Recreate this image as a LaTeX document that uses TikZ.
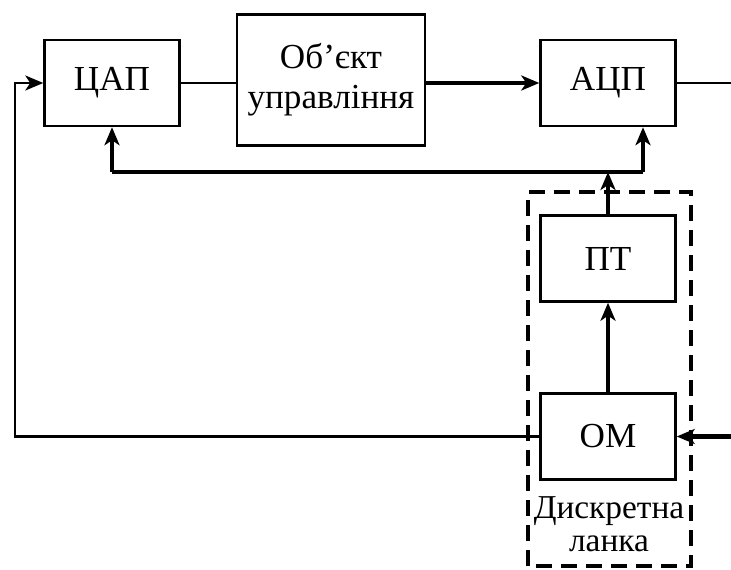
\documentclass[tikz,border=0pt]{standalone}
\usepackage{fontspec}
\setmainfont{Liberation Serif}
\usetikzlibrary{arrows.meta}

\tikzset{
    blok/.style={draw, line width=1.4pt, minimum width=2.7cm, minimum height=1.72cm, inner sep=0pt, font=\fontsize{20}{23}\selectfont},
    tonka/.style={line width=1.4pt},
    tovsta/.style={line width=2.7pt},
    strilka/.style={-{Stealth[length=0.36cm, width=0.3cm, inset=0.1cm]}}
}

\begin{document}
\begin{tikzpicture}

    \useasboundingbox (0, 0) rectangle (14.62, 11.38);

    \draw[line width=1.8pt, dash pattern=on 0.32cm off 0.18cm] (10.56, 0.06) rectangle (13.82, 7.54);

    \node[blok] (cap) at (2.24, 9.72) {ЦАП};
    \node[blok, minimum width=3.76cm, minimum height=2.62cm, align=center] (obj) at (6.62, 9.78) {Об’єкт\\управління};
    \node[blok] (acp) at (12.16, 9.72) {АЦП};
    \node[blok] (pt) at (12.16, 6.21) {ПТ};
    \node[blok] (om) at (12.16, 2.65) {ОМ};
    \node[align=center, font=\fontsize{19}{19}\selectfont] (lanka) at (12.18, 0.9) {Дискретна\\ланка};

    \coordinate (vyhid) at (14.62, 9.72);
    \coordinate (vhid) at (14.62, 2.65);
    \coordinate (zliva) at (0.3, 2.65);
    \coordinate (shyna) at (12.16, 7.94);

    \draw[tonka] (cap.east) -- (cap.east -| obj.west);
    \draw[tovsta, strilka] (acp.west -| obj.east) -- (acp.west);
    \draw[tonka] (acp.east) -- (vyhid);

    \draw[tovsta, strilka] (shyna -| cap.south) -- (cap.south);
    \draw[tovsta] (shyna -| cap.south) -- (shyna -| 12.86, 0);
    \draw[tovsta, strilka] (shyna -| 12.86, 0) -- ([xshift=0.7cm]acp.south);
    \draw[tovsta, strilka] (pt.north) -- (shyna);
    \draw[tovsta, strilka] (om.north) -- (pt.south);

    \draw[tonka, strilka] (om.west) -- (zliva) |- (cap.west);
    \draw[tovsta, strilka] (vhid) -- (om.east);

\end{tikzpicture}
\end{document}
